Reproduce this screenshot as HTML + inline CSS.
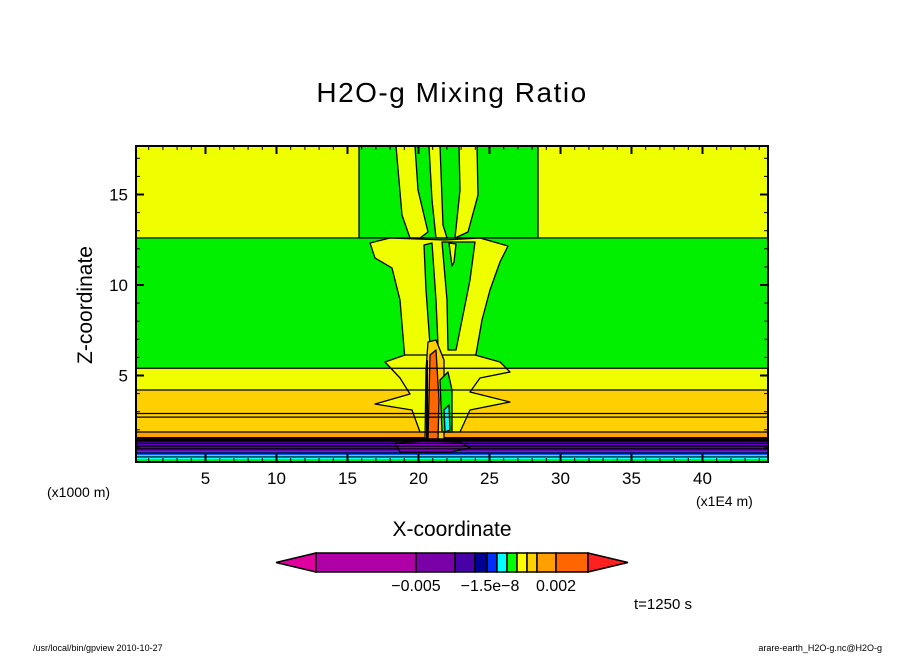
<!DOCTYPE html>
<html><head><meta charset="utf-8"><style>
body{margin:0;background:#fff;}
svg text{font-family:"Liberation Sans",sans-serif;}
</style></head><body>
<svg id="chart" width="904" height="654" xmlns="http://www.w3.org/2000/svg">
<rect width="904" height="654" fill="#fff"/>
<text x="452" y="102" text-anchor="middle" font-size="28" letter-spacing="1.5">H2O-g Mixing Ratio</text>
<g id="plot"></g>
<g id="axes"></g>
<text transform="translate(92,305) rotate(-90)" text-anchor="middle" font-size="21">Z-coordinate</text>
<text x="452" y="536" text-anchor="middle" font-size="21">X-coordinate</text>
<text x="47" y="497" font-size="14">(x1000 m)</text>
<text x="696" y="506" font-size="14">(x1E4 m)</text>
<g id="cbar"></g>
<text x="634" y="609" font-size="15">t=1250 s</text>
<text x="33" y="651" font-size="9">/usr/local/bin/gpview  2010-10-27</text>
<text x="882" y="651" text-anchor="end" font-size="9">arare-earth_H2O-g.nc@H2O-g</text>
</svg>
<script>
const xTicks=[5,10,15,20,25,30,35,40];
const yTicks=[5,10,15];
const bandBottoms=[0.2,0.39,0.61,0.83,1.33,1.6,1.88,4.2,5.4,12.6];
const bandTops=[0.39,0.61,0.83,1.33,1.6,1.88,4.2,5.4,12.6,17.7];
const bandColors=["#00f000","#00ffff","#0050ff","#5a00b4","#000000","#ffa000","#ffd000","#f0ff00","#00f000","#f0ff00"];
const contourLines=[0.5,0.72,0.95,1.1,1.25,1.4,1.5,1.88,2.7,2.9,4.2,5.4,12.6];
const cbLabels=["-0.005","-1.5e-8","0.002"];
const cbColors=["#b000a8","#7a00a8","#4800a8","#000096","#0030ff","#00ffff","#00ff00","#ffff00","#ffd000","#ffa000","#ff6600"];
const cbWidths=[100,39,20,12,10,10,10,10,10,19,32];

const X0=136,X1=768,Y0=146,Y1=462;
const xs=v=>134.5+14.2*v, ys=v=>466-18.1*v;
const NS="http://www.w3.org/2000/svg";
function mk(tag,attrs,parent){const e=document.createElementNS(NS,tag);for(const k in attrs)e.setAttribute(k,attrs[k]);parent.appendChild(e);return e;}
const plot=document.getElementById('plot');
const cp=mk('clipPath',{id:'clip'},plot);
mk('rect',{x:X0,y:Y0,width:X1-X0,height:Y1-Y0},cp);
const g=mk('g',{'clip-path':'url(#clip)'},plot);
for(let i=0;i<bandBottoms.length;i++){
  const r=mk('rect',{x:X0,y:ys(bandTops[i]),width:X1-X0,height:ys(bandBottoms[i])-ys(bandTops[i]),fill:bandColors[i]},g);
  
  
}
const shapes=[
 ["#00f000","359,146 538,146 538,238 359,238"],
 ["#f0ff00","396,146 415,146 418,190 428,232 420,238 410,238 402,215"],
 ["#f0ff00","429,146 440,146 443,225 447,238 436,238 432,200"],
 ["#f0ff00","459,146 477,146 478,195 468,232 455,238 460,190"],
 ["#f0ff00","370,243 390,238 445,240 480,238 508,246 500,262 490,290 482,320 475,360 405,360 400,300 392,268 375,258"],
 ["#00f000","442,242 475,242 470,280 462,320 456,350 448,350 447,300"],
 ["#00f000","424,245 432,243 436,300 438,345 430,345 426,290"],
 ["#f0ff00","449,243 456,244 454,262 452,266"],
 ["#f0ff00","385,362 405,355 475,355 500,362 510,372 480,378 470,392 510,402 470,410 460,432 420,432 412,410 375,404 410,394 400,378"],
 ["#ffd000","428,342 436,340 444,360 444,440 425,440 426,370"],
 ["#ff6600","430,355 436,350 439,400 438,440 428,440"],
 ["#00f000","440,380 448,372 452,390 452,432 442,432"],
 ["#00ffff","444,410 449,405 450,430 445,432"],
 ["#8000c0","395,443 425,441 460,442 470,448 450,452 400,452"]
];
for(const [c,p] of shapes){
  const e=mk('polygon',{points:p,fill:c,stroke:'#000','stroke-width':1.3,'stroke-linejoin':'round'},g);
  
  
}
for(const z of contourLines){
  const l=mk('line',{x1:X0,x2:X1,y1:ys(z),y2:ys(z),stroke:'#000','stroke-width':1.2},g);
  
  
}
mk('line',{x1:427,x2:427,y1:360,y2:442,stroke:'#000','stroke-width':2},g);
const ax=document.getElementById('axes');
mk('rect',{x:X0,y:Y0,width:X1-X0,height:Y1-Y0,fill:'none',stroke:'#000','stroke-width':2},ax);
for(let v=1;v<=44;v++){const maj=v%5===0,L=maj?8:4;
  mk('line',{x1:xs(v),x2:xs(v),y1:Y1,y2:Y1-L,stroke:'#000','stroke-width':maj?2:1},ax);
  mk('line',{x1:xs(v),x2:xs(v),y1:Y0,y2:Y0+L,stroke:'#000','stroke-width':maj?2:1},ax);}
for(let v=1;v<=17;v++){const maj=v%5===0,L=maj?8:4;
  mk('line',{x1:X0,x2:X0+L,y1:ys(v),y2:ys(v),stroke:'#000','stroke-width':maj?2:1},ax);
  mk('line',{x1:X1,x2:X1-L,y1:ys(v),y2:ys(v),stroke:'#000','stroke-width':maj?2:1},ax);}
for(const t of xTicks){const e=mk('text',{x:xs(t),y:484,'text-anchor':'middle','font-size':17},ax);e.textContent=t;
  }
for(const t of yTicks){const e=mk('text',{x:128,y:ys(t)+6,'text-anchor':'end','font-size':17},ax);e.textContent=t;
  }
const cb=document.getElementById('cbar');
mk('polygon',{points:'276,562.5 316,553 316,572',fill:'#e000a0',stroke:'#000','stroke-width':1.5},cb);
let cx=316;const edges=[];
for(let i=0;i<cbColors.length;i++){const r=mk('rect',{x:cx,y:553,width:cbWidths[i],height:19,fill:cbColors[i],stroke:'#000','stroke-width':1.5},cb);
  cx+=cbWidths[i];edges.push(cx);}
mk('polygon',{points:cx+',553 '+(cx+40)+',562.5 '+cx+',572',fill:'#ff2020',stroke:'#000','stroke-width':1.5},cb);
const labPos=[edges[0],edges[5]-17,edges[9]];
cbLabels.forEach((s,i)=>{const e=mk('text',{x:labPos[i],y:591,'text-anchor':'middle','font-size':16},cb);e.textContent=s.replace(/-/g,'\u2212');
  });
</script>
</body></html>
